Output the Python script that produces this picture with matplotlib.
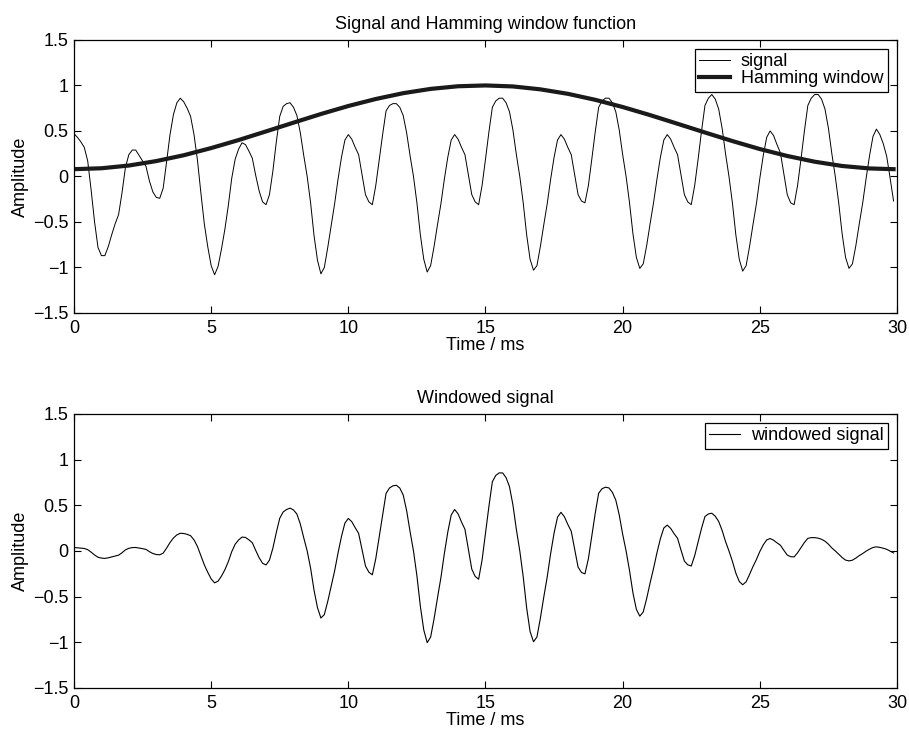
import matplotlib
matplotlib.use("Agg")
import matplotlib.pyplot as plt
import numpy as np

plt.rcParams['font.family'] = ['Liberation Sans', 'DejaVu Sans']

# sampled at 8 kHz, 240 samples (0 .. 29.875 ms)
fs_khz = 8
signal = [
    0.47, 0.43, 0.38, 0.32, 0.17, -0.15, -0.50, -0.78,
    -0.87, -0.87, -0.77, -0.64, -0.52, -0.42, -0.18, 0.10,
    0.24, 0.29, 0.29, 0.23, 0.17, 0.11, -0.05, -0.17,
    -0.23, -0.24, -0.13, 0.16, 0.46, 0.68, 0.81, 0.86,
    0.82, 0.75, 0.66, 0.46, 0.18, -0.18, -0.52, -0.77,
    -0.98, -1.08, -0.99, -0.80, -0.58, -0.32, -0.02, 0.19,
    0.30, 0.37, 0.35, 0.28, 0.20, 0.01, -0.16, -0.28,
    -0.31, -0.20, 0.06, 0.38, 0.66, 0.77, 0.80, 0.81,
    0.76, 0.67, 0.48, 0.23, 0.00, -0.29, -0.65, -0.92,
    -1.07, -1.00, -0.78, -0.54, -0.30, -0.03, 0.21, 0.40,
    0.46, 0.41, 0.32, 0.24, 0.02, -0.20, -0.28, -0.31,
    -0.10, 0.18, 0.46, 0.72, 0.78, 0.80, 0.80, 0.76,
    0.67, 0.48, 0.23, 0.00, -0.29, -0.64, -0.91, -1.05,
    -0.98, -0.77, -0.53, -0.30, -0.03, 0.21, 0.40, 0.46,
    0.41, 0.32, 0.24, 0.02, -0.20, -0.28, -0.31, -0.10,
    0.19, 0.49, 0.76, 0.83, 0.86, 0.86, 0.81, 0.71,
    0.51, 0.24, 0.00, -0.29, -0.64, -0.91, -1.03, -0.98,
    -0.77, -0.53, -0.30, -0.03, 0.21, 0.40, 0.46, 0.41,
    0.32, 0.24, 0.02, -0.20, -0.27, -0.29, -0.10, 0.19,
    0.49, 0.76, 0.83, 0.86, 0.86, 0.81, 0.71, 0.51,
    0.24, 0.00, -0.29, -0.63, -0.89, -1.01, -0.96, -0.76,
    -0.52, -0.29, -0.03, 0.21, 0.40, 0.46, 0.41, 0.32,
    0.24, 0.02, -0.20, -0.28, -0.31, -0.10, 0.19, 0.50,
    0.78, 0.86, 0.90, 0.85, 0.74, 0.53, 0.25, 0.00,
    -0.29, -0.64, -0.91, -1.04, -0.98, -0.77, -0.53, -0.30,
    -0.02, 0.23, 0.43, 0.50, 0.45, 0.35, 0.26, 0.03,
    -0.20, -0.29, -0.31, -0.10, 0.19, 0.50, 0.78, 0.86,
    0.90, 0.90, 0.85, 0.74, 0.53, 0.25, 0.00, -0.29,
    -0.63, -0.89, -1.01, -0.96, -0.76, -0.52, -0.29, -0.02,
    0.23, 0.44, 0.52, 0.46, 0.36, 0.22, -0.02, -0.27,
]

windowed = [
    0.038, 0.035, 0.031, 0.027, 0.014, -0.013, -0.044, -0.069,
    -0.078, -0.082, -0.075, -0.065, -0.055, -0.046, -0.020, 0.012,
    0.029, 0.037, 0.038, 0.032, 0.025, 0.017, -0.008, -0.028,
    -0.039, -0.042, -0.024, 0.031, 0.092, 0.142, 0.176, 0.194,
    0.191, 0.182, 0.167, 0.121, 0.049, -0.051, -0.152, -0.233,
    -0.306, -0.349, -0.331, -0.276, -0.206, -0.117, -0.008, 0.074,
    0.120, 0.152, 0.148, 0.122, 0.090, 0.005, -0.075, -0.135,
    -0.153, -0.101, 0.031, 0.202, 0.358, 0.427, 0.454, 0.469,
    0.449, 0.404, 0.295, 0.144, 0.000, -0.189, -0.430, -0.620,
    -0.734, -0.697, -0.552, -0.388, -0.219, -0.022, 0.158, 0.305,
    0.356, 0.321, 0.254, 0.193, 0.016, -0.164, -0.233, -0.261,
    -0.085, 0.155, 0.399, 0.630, 0.689, 0.713, 0.719, 0.689,
    0.613, 0.442, 0.213, 0.000, -0.272, -0.604, -0.865, -1.004,
    -0.943, -0.744, -0.514, -0.292, -0.029, 0.206, 0.394, 0.454,
    0.406, 0.317, 0.238, 0.020, -0.199, -0.279, -0.309, -0.100,
    0.190, 0.489, 0.758, 0.827, 0.855, 0.854, 0.803, 0.703,
    0.504, 0.236, 0.000, -0.283, -0.623, -0.882, -0.994, -0.942,
    -0.737, -0.504, -0.284, -0.028, 0.196, 0.370, 0.423, 0.375,
    0.291, 0.216, 0.018, -0.177, -0.236, -0.251, -0.086, 0.162,
    0.413, 0.632, 0.682, 0.698, 0.690, 0.642, 0.556, 0.394,
    0.183, 0.000, -0.215, -0.460, -0.640, -0.714, -0.668, -0.521,
    -0.350, -0.192, -0.020, 0.134, 0.251, 0.283, 0.247, 0.189,
    0.139, 0.011, -0.111, -0.152, -0.165, -0.052, 0.096, 0.248,
    0.377, 0.405, 0.413, 0.380, 0.323, 0.225, 0.103, 0.000,
    -0.113, -0.242, -0.334, -0.370, -0.338, -0.257, -0.171, -0.094,
    -0.006, 0.067, 0.121, 0.136, 0.118, 0.089, 0.063, 0.007,
    -0.045, -0.063, -0.065, -0.020, 0.037, 0.093, 0.138, 0.146,
    0.146, 0.140, 0.128, 0.107, 0.074, 0.033, 0.000, -0.035,
    -0.072, -0.100, -0.109, -0.101, -0.078, -0.051, -0.028, -0.002,
    0.020, 0.038, 0.045, 0.039, 0.030, 0.018, -0.002, -0.022,
]

window_t = [0, 1, 2, 3, 4, 5, 6, 7, 8, 9, 10, 11, 12, 13, 14, 15,
            16, 17, 18, 19, 20, 21, 22, 23, 24, 25, 26, 27, 28, 29, 29.875]
window = [0.080, 0.090, 0.120, 0.169, 0.233, 0.312, 0.400, 0.495,
          0.591, 0.686, 0.774, 0.851, 0.915, 0.962, 0.991, 1.000,
          0.989, 0.957, 0.908, 0.842, 0.763, 0.674, 0.579, 0.483,
          0.389, 0.301, 0.225, 0.162, 0.115, 0.088, 0.080]

xticks = [0, 5, 10, 15, 20, 25, 30]
yticks = [-1.5, -1, -0.5, 0, 0.5, 1, 1.5]
ytick_labels = ['\u22121.5', '\u22121', '\u22120.5', '0', '0.5', '1', '1.5']

t = np.arange(len(signal)) / fs_khz
fsz = 13

fig = plt.figure(figsize=(9.09, 7.38), dpi=100)
ax1 = fig.add_axes([0.0814, 0.5759, 0.9054, 0.370])
ax2 = fig.add_axes([0.0814, 0.0678, 0.9054, 0.3713])

ax1.plot(t, signal, color='black', lw=0.7, label='signal')
ax1.plot(window_t, window, color='#1a1a1a', lw=3, label='Hamming window')
ax1.set_title('Signal and Hamming window function', fontsize=fsz, pad=8)

ax2.plot(t, windowed, color='black', lw=0.8, label='windowed signal')
ax2.set_title('Windowed signal', fontsize=fsz, pad=8)

for ax in (ax1, ax2):
    ax.set_xlim(0, 30)
    ax.set_ylim(-1.5, 1.5)
    ax.set_xticks(xticks)
    ax.set_yticks(yticks)
    ax.set_yticklabels(ytick_labels)
    ax.tick_params(direction='in', top=True, right=True, length=5, width=0.8,
                   labelsize=fsz)
    ax.tick_params(axis='x', pad=5)
    ax.tick_params(axis='y', pad=4)
    for s in ax.spines.values():
        s.set_linewidth(0.9)
    ax.set_xlabel('Time / ms', fontsize=fsz, labelpad=0)
    ax.set_ylabel('Amplitude', fontsize=fsz, labelpad=3)
    leg = ax.legend(loc='upper right', fontsize=fsz, fancybox=False,
                    framealpha=1, edgecolor='black', borderaxespad=0.5,
                    handlelength=1.7, handletextpad=0.6, borderpad=0.25,
                    labelspacing=0.0)
    leg.get_frame().set_linewidth(0.9)

fig.savefig('out.png', dpi=100)
